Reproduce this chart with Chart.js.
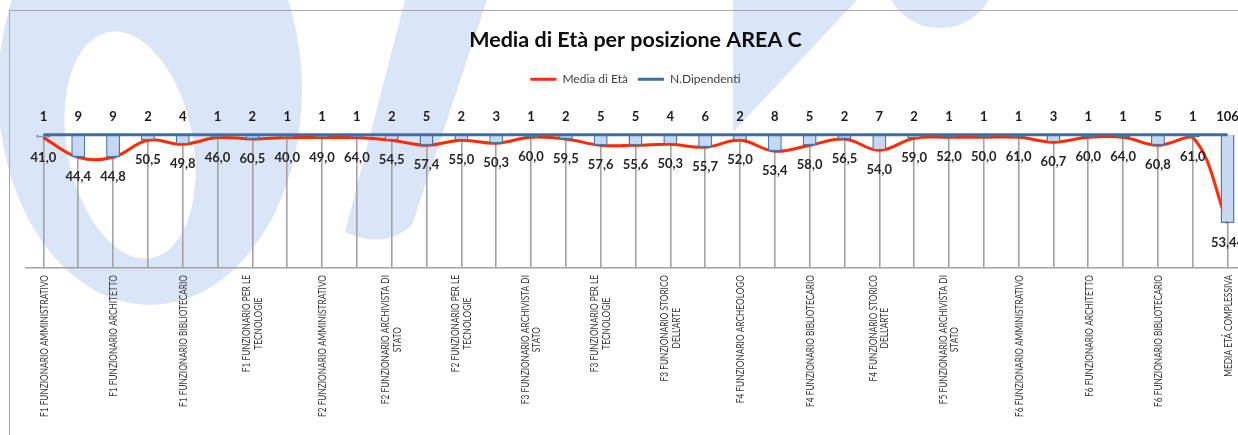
<!DOCTYPE html>
<html>
<head>
<meta charset="utf-8">
<script src="https://cdn.jsdelivr.net/npm/chart.js@4.4.1/dist/chart.umd.min.js"></script>
<style>
html,body{margin:0;padding:0;width:1238px;height:435px;overflow:hidden;background:#fff;}
#wrap{position:relative;width:1238px;height:435px;overflow:hidden;}
canvas{position:absolute;left:0;top:0;}
#frame{position:absolute;left:9px;top:10px;width:1300px;height:500px;border:1px solid #a6a6a6;box-sizing:border-box;pointer-events:none;}
</style>
</head>
<body>
<div id="wrap"><canvas id="c" width="1270" height="435"></canvas><div id="frame"></div></div>
<script>
// ---- data ----
const categorie = [
  ['F1 FUNZIONARIO AMMINISTRATIVO'], '',
  ['F1 FUNZIONARIO ARCHITETTO'], '',
  ['F1 FUNZIONARIO BIBLIOTECARIO'], '',
  ['F1 FUNZIONARIO PER LE', 'TECNOLOGIE'], '',
  ['F2 FUNZIONARIO AMMINISTRATIVO'], '',
  ['F2 FUNZIONARIO ARCHIVISTA DI', 'STATO'], '',
  ['F2 FUNZIONARIO PER LE', 'TECNOLOGIE'], '',
  ['F3 FUNZIONARIO ARCHIVISTA DI', 'STATO'], '',
  ['F3 FUNZIONARIO PER LE', 'TECNOLOGIE'], '',
  ['F3 FUNZIONARIO STORICO', "DELL'ARTE"], '',
  ['F4 FUNZIONARIO ARCHEOLOGO'], '',
  ['F4 FUNZIONARIO BIBLIOTECARIO'], '',
  ['F4 FUNZIONARIO STORICO', "DELL'ARTE"], '',
  ['F5 FUNZIONARIO ARCHIVISTA DI', 'STATO'], '',
  ['F6 FUNZIONARIO AMMINISTRATIVO'], '',
  ['F6 FUNZIONARIO ARCHITETTO'], '',
  ['F6 FUNZIONARIO BIBLIOTECARIO'], '',
  ['MEDIA ETÁ COMPLESSIVA']
];
const dipendenti = [1,9,9,2,4,1,2,1,1,1,2,5,2,3,1,2,5,5,4,6,2,8,5,2,7,2,1,1,1,3,1,1,5,1,106];
const mediaEta = [41.0,44.4,44.8,50.5,49.8,46.0,60.5,40.0,49.0,64.0,54.5,57.4,55.0,50.3,60.0,59.5,57.6,55.6,50.3,55.7,52.0,53.4,58.0,56.5,54.0,59.0,52.0,50.0,61.0,60.7,60.0,64.0,60.8,61.0,53.44];
// plotted level of the red line / bar bottoms, on the chart's hidden value axis
const livelloGrafico = [2.8,22.5,22.5,5.5,9.5,2.8,4.2,2.8,2.8,2.8,5.5,10.5,5.5,8.5,2.5,4.2,10.5,10.5,9.5,12.5,5.5,16.5,10.5,4.2,15.5,3.5,2.5,2.5,2.5,7.5,2.5,2.5,10.5,2.5,88.5];
// level of the blue N.Dipendenti line on the same axis
const livelloBase = [0,0,0,0,0,0,0,0,0,0,0,0,0,0,0,0,0,0,0,0,0,0,0,0,0,0,0,0,0,0,0,0,0,0,0];

const fmtEta = v => v.toLocaleString('it-IT', {minimumFractionDigits:1, maximumFractionDigits:2});

// light background watermark of the source page (decoration only)
const filigrana = {
  id: 'filigrana',
  beforeDraw(chart) {
    const ctx = chart.ctx;
    ctx.save();
    ctx.fillStyle = '#dae6f8';
    ctx.beginPath();
    ctx.ellipse(150, 90, 152, 215, 0, 0, Math.PI * 2);
    ctx.fill();
    // diagonal stroke right of the ring
    ctx.beginPath();
    ctx.moveTo(405, 0); ctx.lineTo(487, 0); ctx.lineTo(412, 225);
    ctx.quadraticCurveTo(385, 250, 345, 232);
    ctx.closePath();
    ctx.fill();
    // upper block near the end of the title
    ctx.beginPath();
    ctx.moveTo(733, 0); ctx.lineTo(857, 0); ctx.lineTo(733, 132);
    ctx.closePath();
    ctx.fill();
    // rounded shape at the top
    ctx.beginPath();
    ctx.ellipse(940, -22, 54, 50, 0, 0, Math.PI * 2);
    ctx.fill();
    ctx.fillStyle = '#ffffff';
    ctx.beginPath();
    ctx.ellipse(130, 145, 63, 115, -0.19, 0, Math.PI * 2);
    ctx.fill();
    ctx.restore();
  }
};

const etichettePlugin = {
  id: 'etichette',
  afterDatasetsDraw(chart) {
    const {ctx, scales} = chart;
    const x = scales.x, y = scales.y;
    ctx.save();
    ctx.textAlign = 'center';
    ctx.textBaseline = 'middle';
    ctx.font = 'bold 13px Lato';
    const y0 = y.getPixelForValue(0);
    dipendenti.forEach((v, i) => {
      ctx.fillStyle = '#1a1a1a';
      ctx.fillText(String(v), x.getPixelForTick(i), y0 - 18);
    });
    mediaEta.forEach((v, i) => {
      ctx.fillStyle = '#262626';
      ctx.fillText(fmtEta(v), x.getPixelForTick(i), y.getPixelForValue(livelloGrafico[i]) + 20);
    });
    // category labels (rotated, lines centred like the original)
    ctx.font = '10.5px Lato';
    ctx.fillStyle = '#3a3a3a';
    const k = 142 / ctx.measureText('F1 FUNZIONARIO AMMINISTRATIVO').width;
    const top = chart.chartArea.bottom + 7;
    categorie.forEach((lab, i) => {
      const lines = Array.isArray(lab) ? lab : (lab ? [lab] : []);
      if (!lines.length) return;
      const px = x.getPixelForTick(i) + (lines.length === 1 ? 1 : 0);
      ctx.save();
      ctx.translate(px, top);
      ctx.rotate(-Math.PI / 2);
      ctx.scale(k, 1);
      const w1 = ctx.measureText(lines[0]).width;
      const n = lines.length, lh = 11.6;
      lines.forEach((t, j) => {
        const off = (j - (n - 1) / 2) * lh;
        if (j === 0) { ctx.textAlign = 'right'; ctx.fillText(t, 0, off); }
        else { ctx.textAlign = 'center'; ctx.fillText(t, -w1 / 2, off); }
      });
      ctx.restore();
    });
    ctx.restore();
  }
};

new Chart(document.getElementById('c'), {
  data: {
    labels: categorie,
    datasets: [
      { type:'line', label:'N.Dipendenti', data: livelloBase, xAxisID:'x', yAxisID:'y',
        borderColor:'#3d6ca6', backgroundColor:'#3d6ca6', borderWidth:3, pointRadius:0, order:0, clip:false },
      { type:'bar', label:'barre', data: livelloGrafico, xAxisID:'x', yAxisID:'y',
        backgroundColor:'#c6d9f1', borderColor:'#4a78b0', borderWidth:1.5,
        barPercentage:0.4, categoryPercentage:1, order:1 },
      { type:'line', label:'Media di Età', data: livelloGrafico, xAxisID:'x', yAxisID:'y',
        borderColor:'#ff2a00', backgroundColor:'#ff2a00', borderWidth:3, pointRadius:0,
        tension:0.4, order:2, clip:false }
    ]
  },
  options: {
    responsive:false,
    animation:false,
    devicePixelRatio:1,
    layout:{ padding:{ left:26, right:25, top:0, bottom:0 }, autoPadding:false },
    plugins:{
      title:{ display:true, text:'Media di Età per posizione AREA C', color:'#0d0d0d',
        font:{ family:'Lato', size:21.5, weight:'bold' }, padding:{ top:27.1, bottom:10.4 } },
      legend:{ display:true, position:'top',
        labels:{
          font:{ family:'Lato', size:12 }, color:'#404040', boxWidth:26, boxHeight:3, padding:10,
          generateLabels(chart){
            return [
              { text:'Media di Età', fillStyle:'#ff2a00', strokeStyle:'#ff2a00', lineWidth:0, datasetIndex:2, fontColor:'#404040' },
              { text:'N.Dipendenti', fillStyle:'#3d6ca6', strokeStyle:'#3d6ca6', lineWidth:0, datasetIndex:0, fontColor:'#404040' }
            ];
          }
        }
      },
      tooltip:{ enabled:false }
    },
    scales:{
      x:{ type:'category', position:'bottom', offset:true,
        grid:{ offset:false, color:'#a3a3a3', lineWidth:1.6, drawTicks:false },
        border:{ color:'#a3a3a3', width:1.6 },
        ticks:{ display:false },
        afterFit(s){ s.height = 167; } },
      xTop:{ type:'category', position:'top', offset:true,
        grid:{ display:false, drawTicks:false }, border:{ display:false }, ticks:{ display:false },
        afterFit(s){ s.height = 39.5; } },
      y:{ type:'linear', reverse:true, min:0, max:133.5, display:false }
    }
  },
  plugins:[filigrana, etichettePlugin]
});
</script>
</body>
</html>
